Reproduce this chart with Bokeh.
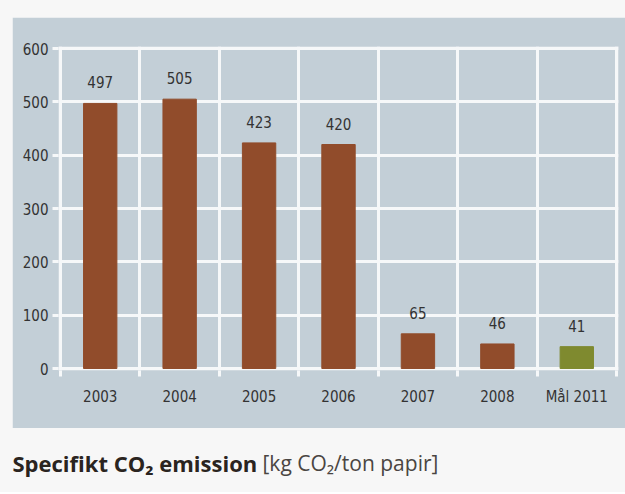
from bokeh.plotting import figure
from bokeh.models import Range1d, FixedTicker, ColumnDataSource, Grid
from bokeh.layouts import column, row
from bokeh.embed import file_html
from bokeh.resources import INLINE
from bokeh.core.properties import value

categories = ["2003", "2004", "2005", "2006", "2007", "2008", "Mål 2011"]
emissions = [497, 505, 423, 420, 65, 46, 41]
bar_colors = ["#914c2b", "#914c2b", "#914c2b", "#914c2b", "#914c2b", "#914c2b", "#7f8a2f"]
y_ticks = [0, 100, 200, 300, 400, 500, 600]
caption_bold = "Specifikt CO\u2082 emission"
caption_light = "[kg CO\u2082/ton papir]"

PANEL = "#c3cfd7"
PAGE = "#f7f7f7"
GRIDC = "#f6f8f9"
FONT = "DejaVu Sans Condensed, Liberation Sans Narrow, Liberation Sans, sans-serif"

n = len(categories)
centers = [i + 0.5 for i in range(n)]
boundaries = [float(i) for i in range(n + 1)]

src = ColumnDataSource(dict(x=centers, top=emissions, color=bar_colors,
                            label=[str(v) for v in emissions]))

BL, BR = 46, 7

p = figure(width=613, height=411, output_backend="svg", toolbar_location=None,
           x_range=Range1d(-0.0252, 7.025), y_range=Range1d(-3.75, 603.75),
           min_border_left=BL, min_border_right=BR, min_border_top=29, min_border_bottom=58,
           background_fill_color=PANEL, border_fill_color=PANEL, outline_line_color=None,
           margin=(17, 0, 0, 12))

p.vbar(x="x", top="top", bottom=0, width=0.42, color="color", source=src)
p.text(x="x", y="top", text="label", source=src, text_align="center",
       text_baseline="middle", y_offset=-21, text_font=value(FONT),
       text_font_size="15px", text_color="#333333")

# grids
p.xgrid.visible = False
vg = Grid(dimension=0, ticker=FixedTicker(ticks=boundaries),
          grid_line_color=GRIDC, grid_line_width=3)
p.add_layout(vg)
p.ygrid.ticker = FixedTicker(ticks=y_ticks)
p.ygrid.grid_line_color = GRIDC
p.ygrid.grid_line_width = 3

# x axis
p.xaxis.ticker = FixedTicker(ticks=centers, minor_ticks=boundaries)
p.xaxis.major_label_overrides = {c: lab for c, lab in zip(centers, categories)}
p.xaxis.axis_line_color = None
p.xaxis.major_tick_line_color = None
p.xaxis.major_tick_out = 0
p.xaxis.major_tick_in = 0
p.xaxis.minor_tick_line_color = GRIDC
p.xaxis.minor_tick_line_width = 3
p.xaxis.minor_tick_out = 6
p.xaxis.minor_tick_in = 0
p.xaxis.major_label_standoff = 11
p.xaxis.major_label_text_font = FONT
p.xaxis.major_label_text_font_size = "15px"
p.xaxis.major_label_text_color = "#333333"

# y axis
p.yaxis.ticker = FixedTicker(ticks=y_ticks)
p.yaxis.axis_line_color = None
p.yaxis.major_tick_line_color = GRIDC
p.yaxis.major_tick_line_width = 3
p.yaxis.major_tick_out = 6
p.yaxis.major_tick_in = 0
p.yaxis.minor_tick_line_color = None
p.yaxis.major_label_standoff = 4
p.yaxis.major_label_text_font = FONT
p.yaxis.major_label_text_font_size = "15px"
p.yaxis.major_label_text_color = "#333333"

# caption
c = figure(width=625, height=64, output_backend="svg", toolbar_location=None,
           x_range=Range1d(0, 625), y_range=Range1d(0, 64),
           x_axis_location=None, y_axis_location=None,
           min_border_left=0, min_border_right=0, min_border_top=0, min_border_bottom=0,
           outline_line_color=None,
           background_fill_color=PAGE, border_fill_color=PAGE)
c.grid.visible = False
c.text(x=[12], y=[30], text=[caption_bold], text_font=value("Open Sans"),
       text_font_style="bold", text_font_size="22px", text_color="#2a2420",
       text_baseline="middle")
c.text(x=[262], y=[30], text=[caption_light], text_font=value("Open Sans"),
       text_font_size="21px", text_color="#4a4542", text_baseline="middle")

layout = column(p, row(c), spacing=0, styles={"background-color": PAGE})
open("out.html", "w").write(file_html(layout, INLINE))
